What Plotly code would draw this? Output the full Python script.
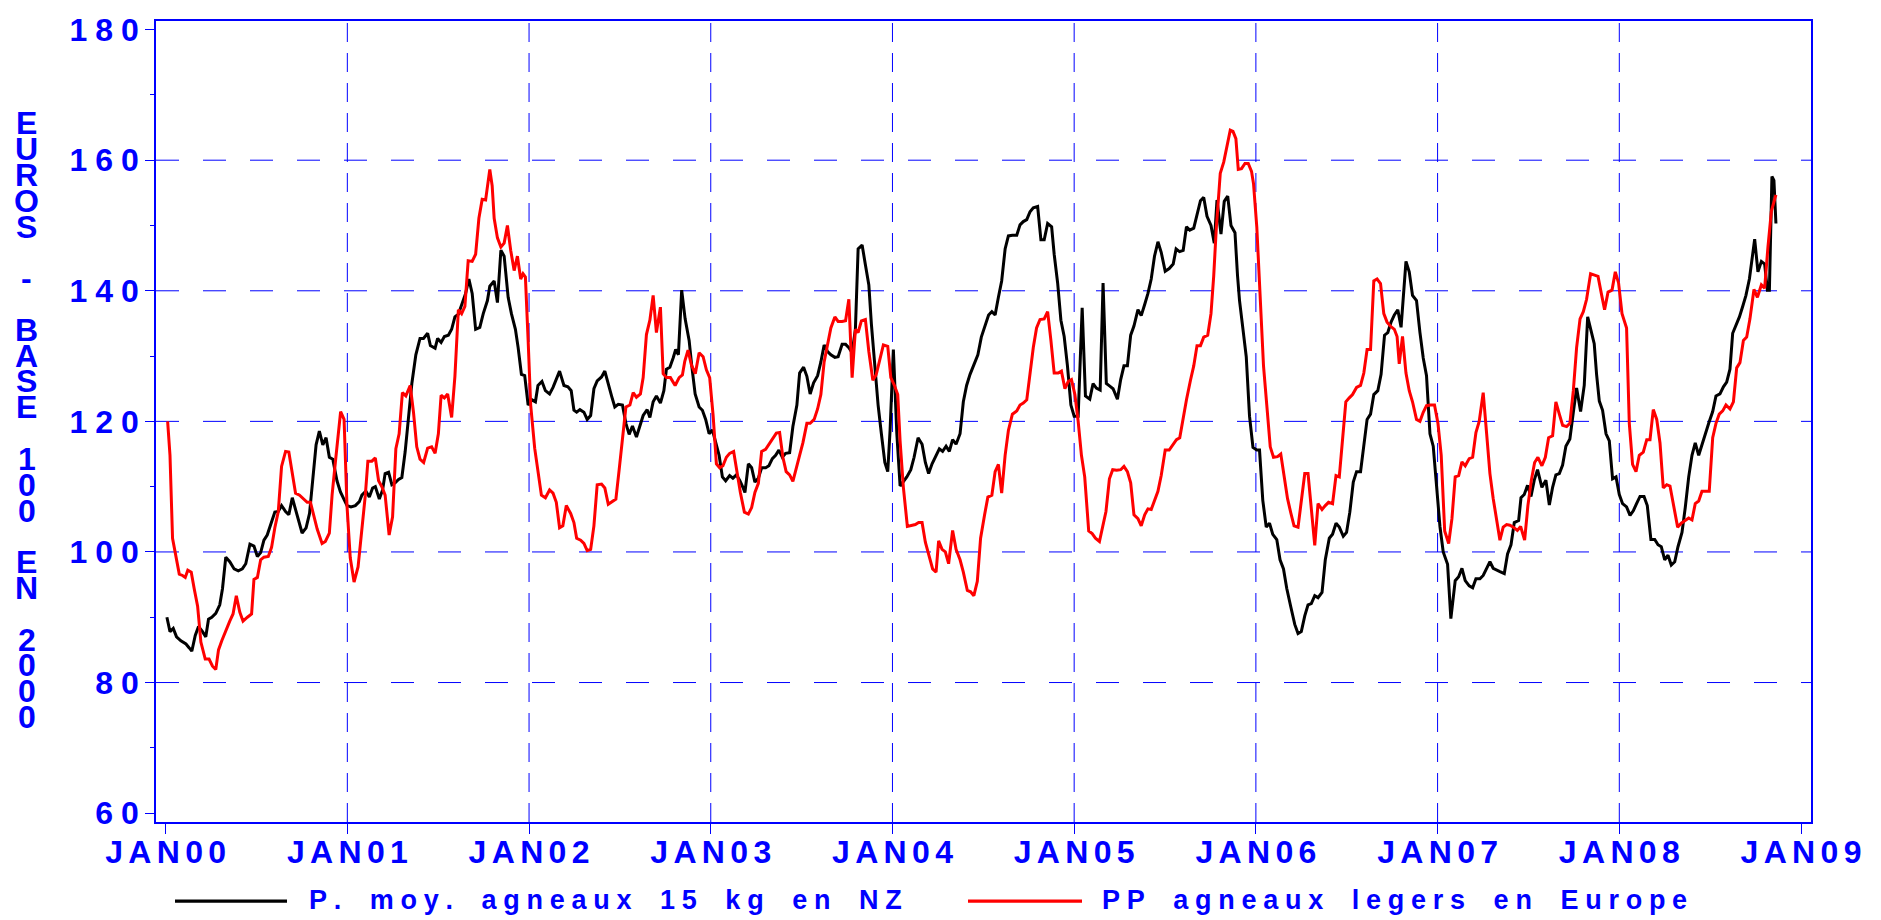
import plotly.graph_objects as go

# ---------------- data ----------------
SERIES_NAMES = ["P. moy. agneaux 15 kg en NZ", "PP agneaux legers en Europe"]

X_TICK_YEARS = [2000, 2001, 2002, 2003, 2004, 2005, 2006, 2007, 2008, 2009]
X_TICK_LABELS = ["JAN00", "JAN01", "JAN02", "JAN03", "JAN04", "JAN05", "JAN06", "JAN07", "JAN08", "JAN09"]
Y_TICK_VALUES = [60, 80, 100, 120, 140, 160, 180]
Y_MINOR_VALUES = [70, 90, 110, 130, 150, 170]
Y_GRID_VALUES = [80, 100, 120, 140, 160]
X_GRID_YEARS = [2001, 2002, 2003, 2004, 2005, 2006, 2007, 2008]
Y_TITLE = "EUROS - BASE 100 EN 2000"

# NZ series (black): decimal year offsets from 2000 and index values
NZ_T = [
    0.007, 0.024, 0.042, 0.060, 0.084, 0.112, 0.130, 0.144, 0.163, 0.181, 0.203, 0.221, 0.236, 0.254,
    0.276, 0.298, 0.313, 0.331, 0.353, 0.377, 0.400, 0.422, 0.441, 0.464, 0.486, 0.505, 0.523, 0.541,
    0.559, 0.578, 0.601, 0.620, 0.638, 0.660, 0.678, 0.697, 0.715, 0.733, 0.751, 0.773, 0.792, 0.806,
    0.828, 0.846, 0.865, 0.883, 0.901, 0.920, 0.943, 0.962, 0.980, 0.998, 1.020, 1.044, 1.066, 1.080,
    1.102, 1.121, 1.139, 1.154, 1.176, 1.194, 1.208, 1.227, 1.245, 1.263, 1.282, 1.300, 1.318, 1.336,
    1.355, 1.377, 1.400, 1.419, 1.442, 1.457, 1.483, 1.497, 1.516, 1.534, 1.556, 1.574, 1.592, 1.611,
    1.629, 1.651, 1.669, 1.687, 1.706, 1.729, 1.748, 1.771, 1.784, 1.808, 1.826, 1.845, 1.863, 1.885,
    1.903, 1.925, 1.940, 1.958, 1.976, 1.995, 2.016, 2.035, 2.049, 2.071, 2.090, 2.113, 2.132, 2.150,
    2.168, 2.192, 2.214, 2.232, 2.247,
    2.262, 2.280, 2.302, 2.320, 2.339, 2.357, 2.375, 2.399, 2.417, 2.436, 2.454, 2.472, 2.491, 2.514,
    2.533, 2.551, 2.569, 2.591, 2.610, 2.628, 2.650, 2.665, 2.683, 2.701, 2.723, 2.742, 2.756, 2.775,
    2.793, 2.807, 2.822, 2.840, 2.859, 2.881, 2.895, 2.914, 2.936, 2.954, 2.972, 2.991, 3.009, 3.027,
    3.046, 3.064, 3.082, 3.104, 3.122, 3.141, 3.159, 3.177, 3.188, 3.207, 3.225, 3.243, 3.262, 3.280,
    3.302, 3.320, 3.339, 3.357, 3.375, 3.394, 3.412, 3.434, 3.452, 3.474, 3.489, 3.511, 3.529, 3.547,
    3.566, 3.588, 3.606, 3.624, 3.643, 3.661, 3.683, 3.701, 3.723, 3.742, 3.760, 3.778, 3.796, 3.811,
    3.833, 3.851, 3.870, 3.884, 3.903, 3.921, 3.939, 3.958, 3.974, 3.987, 4.005, 4.024, 4.042, 4.060,
    4.079, 4.101, 4.119, 4.141, 4.163, 4.181, 4.199, 4.218, 4.240, 4.258, 4.276, 4.295, 4.313, 4.331,
    4.350, 4.372, 4.390, 4.408, 4.427, 4.448, 4.470, 4.489, 4.507, 4.529,
    4.547, 4.565, 4.583, 4.601, 4.620, 4.638, 4.660, 4.684, 4.702, 4.720, 4.739, 4.757, 4.775, 4.799,
    4.817, 4.835, 4.854, 4.876, 4.890, 4.909, 4.927, 4.945, 4.963, 4.982, 5.000, 5.022, 5.044, 5.062,
    5.086, 5.104, 5.122, 5.143, 5.159, 5.177, 5.196, 5.214, 5.238, 5.256, 5.274, 5.293, 5.311, 5.329,
    5.351, 5.369, 5.388, 5.406, 5.424, 5.442, 5.461, 5.479, 5.501, 5.523, 5.545, 5.561, 5.580, 5.600,
    5.618, 5.636, 5.658, 5.676, 5.695, 5.713, 5.731, 5.753, 5.771, 5.786, 5.808, 5.826, 5.845, 5.863,
    5.885, 5.899, 5.910, 5.929, 5.947, 5.965, 5.984, 6.005, 6.020, 6.038, 6.057, 6.075, 6.093, 6.115,
    6.133, 6.152, 6.170, 6.192, 6.214, 6.232, 6.250, 6.269, 6.287, 6.305, 6.324, 6.342, 6.364, 6.382,
    6.404, 6.422, 6.441, 6.459, 6.481, 6.499, 6.517, 6.536, 6.554, 6.576, 6.594, 6.612, 6.631, 6.649,
    6.671, 6.689, 6.708, 6.726, 6.744, 6.762, 6.781, 6.799,
    6.826, 6.844, 6.862, 6.884, 6.903, 6.921, 6.939, 6.958, 6.976, 6.995, 7.013, 7.031, 7.055, 7.073,
    7.097, 7.116, 7.134, 7.152, 7.174, 7.193, 7.211, 7.233, 7.251, 7.270, 7.288, 7.306, 7.325, 7.343,
    7.367, 7.385, 7.404, 7.422, 7.446, 7.459, 7.477, 7.495, 7.514, 7.532, 7.550, 7.574, 7.596, 7.615,
    7.633, 7.651, 7.670, 7.688, 7.706, 7.728, 7.747, 7.765, 7.787, 7.807, 7.826, 7.844, 7.862, 7.875,
    7.890, 7.908, 7.927, 7.945, 7.963, 7.982, 8.000, 8.018, 8.040, 8.059, 8.077, 8.095, 8.114, 8.136,
    8.154, 8.174, 8.195, 8.213, 8.231, 8.250, 8.268, 8.286, 8.305, 8.323, 8.345, 8.363, 8.382, 8.400,
    8.418, 8.437, 8.455, 8.473, 8.492, 8.514, 8.532, 8.554, 8.573, 8.591, 8.609, 8.624, 8.642, 8.661,
    8.679, 8.697, 8.716, 8.730, 8.745, 8.763, 8.782, 8.800, 8.815, 8.826, 8.840, 8.851, 8.862,
]
NZ_V = [
    90.0, 87.8, 88.3, 87.0, 86.4, 85.9, 85.3, 84.8, 87.2, 88.6, 87.8, 87.0, 89.7, 90.0,
    90.6, 91.9, 94.4, 99.2, 98.5, 97.4, 97.1, 97.4, 98.2, 101.2, 100.9, 99.3, 99.9, 101.8,
    102.6, 104.3, 106.1, 106.2, 107.1, 106.2, 105.7, 108.3, 106.5, 105.1, 102.9, 103.7, 105.9, 110.0,
    116.4, 118.5, 116.4, 117.5, 114.5, 114.2, 110.9, 109.2, 108.1, 107.1, 106.9, 107.1, 107.7, 108.7,
    109.3, 108.4, 109.8, 110.0, 108.1, 109.5, 112.0, 112.2, 110.3, 110.6, 111.1, 111.4, 115.3, 120.8,
    125.8, 130.2, 132.7, 132.7, 133.5, 131.6, 131.2, 132.7, 132.1, 133.0, 133.2, 134.1, 136.0, 136.4,
    137.9, 139.6, 141.8, 139.6, 134.1, 134.4, 136.5, 138.5, 140.7, 141.5, 138.2, 146.2, 145.3, 139.0,
    136.5, 134.1, 131.3, 127.2, 127.0, 122.5, 123.3, 123.0, 125.5, 126.1, 124.7, 124.2, 125.2, 126.6,
    127.7, 125.5, 125.3, 124.7, 121.7,
    121.4, 121.8, 121.4, 120.3, 120.9, 125.0, 126.2, 126.8, 127.7, 125.5, 123.9, 122.2, 122.6, 122.5,
    119.7, 118.0, 119.3, 117.6, 119.2, 120.9, 121.8, 120.6, 123.0, 123.9, 122.8, 124.7, 128.0, 128.3,
    129.7, 131.0, 130.2, 140.1, 135.7, 132.4, 128.6, 124.2, 122.2, 121.7, 120.3, 118.1, 118.7, 117.0,
    114.8, 111.5, 110.9, 111.7, 111.3, 111.8, 111.0, 109.9, 109.1, 113.5, 112.9, 110.7, 111.3, 112.9,
    112.9, 113.2, 114.3, 114.8, 115.6, 114.5, 115.1, 115.2, 119.2, 122.5, 127.4, 128.3, 126.9, 124.2,
    125.9, 127.0, 129.1, 131.7, 130.7, 130.2, 129.8, 129.9, 131.8, 131.8, 131.3, 130.5, 134.1, 146.4,
    147.0, 144.0, 140.9, 134.9, 128.0, 122.5, 118.1, 113.7, 112.3, 118.7, 131.0, 118.1, 110.1, 110.7,
    111.5, 112.6, 114.5, 117.5, 116.5, 113.7, 112.0, 113.5, 114.8, 115.8, 115.4, 116.2, 115.4, 117.2,
    116.5, 118.1, 123.0, 125.5, 127.2, 128.8, 130.2, 132.9, 134.3, 136.3,
    136.8, 136.3, 139.0, 141.5, 146.4, 148.4, 148.5, 148.5, 150.1, 150.6, 150.9, 152.1, 152.7, 152.9,
    147.8, 147.8, 150.3, 149.8, 145.6, 141.2, 135.5, 133.0, 128.5, 122.5, 120.8, 120.8, 137.4, 123.9,
    123.4, 125.8, 125.1, 124.8, 141.2, 125.8, 125.4, 125.0, 123.4, 126.4, 128.5, 128.5, 133.2, 134.6,
    137.1, 136.2, 137.9, 139.6, 141.8, 145.3, 147.5, 145.9, 143.0, 143.4, 144.1, 146.4, 146.0, 146.2,
    149.8, 149.3, 149.6, 151.9, 153.8, 154.3, 151.4, 150.0, 147.3, 153.9, 148.7, 153.7, 154.5, 150.0,
    148.9, 142.3, 138.5, 134.1, 129.9, 120.8, 116.0, 115.6, 115.6, 107.9, 103.8, 104.4, 102.7, 101.9,
    98.8, 97.4, 94.4, 91.6, 88.9, 87.5, 87.8, 90.2, 91.9, 92.1, 93.3, 93.0, 93.8, 98.8,
    102.1, 102.7, 104.4, 103.8, 102.4, 103.0, 106.1, 110.7, 112.3, 112.3, 116.4, 120.3, 121.1, 124.1,
    124.7, 127.2, 133.2, 133.6, 135.2, 136.3, 137.1, 134.4,
    144.5, 142.9, 139.3, 138.5, 133.6, 129.7, 127.0, 118.1, 116.2, 110.5, 103.9, 100.0, 98.1, 89.8,
    95.6, 96.2, 97.5, 95.6, 94.8, 94.5, 95.9, 95.9, 96.4, 97.5, 98.5, 97.5, 97.2, 97.0,
    96.7, 99.7, 101.1, 104.5, 104.8, 108.3, 108.8, 110.2, 108.5, 111.0, 112.6, 109.9, 111.0, 107.2,
    109.9, 111.8, 112.0, 113.3, 116.2, 117.3, 121.4, 125.1, 121.5, 125.5, 136.0, 134.1, 131.9, 127.2,
    123.1, 121.7, 118.1, 117.0, 111.2, 111.5, 108.8, 107.4, 106.9, 105.6, 106.3, 107.4, 108.5, 108.5,
    107.1, 101.9, 101.9, 101.1, 100.8, 98.8, 99.5, 98.0, 98.5, 100.8, 103.0, 106.8, 111.5, 114.8,
    116.7, 114.8, 116.5, 118.1, 119.7, 121.5, 123.9, 124.2, 125.3, 126.0, 128.0, 133.5, 134.6, 136.0,
    137.6, 139.3, 141.8, 144.5, 147.9, 142.9, 144.5, 144.1, 140.1, 140.1, 157.5, 156.9, 150.3,
]

# Europe series (red): decimal year offsets from 2000 and index values
EU_T = [
    0.011, 0.024, 0.038, 0.057, 0.075, 0.093, 0.108, 0.122, 0.141, 0.157, 0.176, 0.194, 0.218, 0.239,
    0.258, 0.276, 0.291, 0.309, 0.331, 0.353, 0.371, 0.389, 0.408, 0.426, 0.450, 0.473, 0.486, 0.505,
    0.523, 0.541, 0.565, 0.583, 0.601, 0.620, 0.638, 0.660, 0.678, 0.697, 0.715, 0.737, 0.761, 0.779,
    0.797, 0.815, 0.834, 0.861, 0.879, 0.901, 0.916, 0.934, 0.949, 0.963, 0.982, 0.998, 1.016, 1.037,
    1.059, 1.077, 1.099, 1.113, 1.135, 1.154, 1.172, 1.190, 1.208, 1.230, 1.249, 1.267, 1.285, 1.303,
    1.322, 1.346, 1.364, 1.382, 1.400, 1.420, 1.442, 1.464, 1.483, 1.501, 1.516, 1.534, 1.552, 1.574,
    1.592, 1.611, 1.629, 1.647, 1.665, 1.687, 1.706, 1.724, 1.742, 1.761, 1.784, 1.797, 1.808, 1.826,
    1.845, 1.863, 1.881, 1.899, 1.918, 1.936, 1.954, 1.967, 1.980, 1.995, 2.009, 2.031, 2.049, 2.068,
    2.090, 2.113, 2.132, 2.150, 2.168, 2.186, 2.205, 2.229, 2.247,
    2.262, 2.284, 2.302, 2.320, 2.339, 2.357, 2.375, 2.399, 2.417, 2.436, 2.454, 2.478, 2.496, 2.514,
    2.533, 2.555, 2.573, 2.591, 2.613, 2.628, 2.646, 2.665, 2.683, 2.701, 2.723, 2.738, 2.756, 2.778,
    2.804, 2.826, 2.844, 2.857, 2.875, 2.894, 2.915, 2.936, 2.958, 2.976, 2.994, 3.013, 3.031, 3.049,
    3.067, 3.086, 3.104, 3.126, 3.144, 3.163, 3.185, 3.207, 3.225, 3.243, 3.262, 3.280, 3.302, 3.320,
    3.342, 3.361, 3.379, 3.397, 3.415, 3.434, 3.452, 3.470, 3.489, 3.507, 3.529, 3.547, 3.569, 3.588,
    3.606, 3.624, 3.643, 3.661, 3.683, 3.701, 3.723, 3.742, 3.760, 3.778, 3.796, 3.811, 3.829, 3.851,
    3.870, 3.892, 3.910, 3.932, 3.950, 3.974, 3.991, 4.011, 4.029, 4.042, 4.060, 4.082, 4.104, 4.126,
    4.144, 4.163, 4.181, 4.203, 4.221, 4.240, 4.254, 4.273, 4.291, 4.309, 4.331, 4.350, 4.372, 4.390,
    4.412, 4.430, 4.448, 4.467, 4.485, 4.507, 4.525,
    4.547, 4.565, 4.583, 4.601, 4.620, 4.638, 4.660, 4.684, 4.702, 4.720, 4.739, 4.757, 4.775, 4.793,
    4.812, 4.835, 4.854, 4.872, 4.890, 4.912, 4.930, 4.949, 4.967, 4.985, 5.004, 5.022, 5.040, 5.058,
    5.080, 5.099, 5.117, 5.139, 5.157, 5.175, 5.194, 5.212, 5.234, 5.256, 5.274, 5.293, 5.311, 5.329,
    5.351, 5.369, 5.388, 5.406, 5.424, 5.442, 5.461, 5.479, 5.501, 5.523, 5.541, 5.563, 5.581, 5.600,
    5.618, 5.640, 5.658, 5.676, 5.695, 5.713, 5.735, 5.753, 5.768, 5.782, 5.804, 5.823, 5.841, 5.859,
    5.874, 5.890, 5.903, 5.921, 5.940, 5.958, 5.976, 5.987, 6.005, 6.024, 6.042, 6.060, 6.079, 6.097,
    6.119, 6.137, 6.155, 6.174, 6.192, 6.210, 6.232, 6.250, 6.269, 6.287, 6.305, 6.324, 6.342, 6.364,
    6.382, 6.400, 6.422, 6.441, 6.459, 6.477, 6.495, 6.514, 6.532, 6.554, 6.576, 6.594, 6.612, 6.631,
    6.649, 6.667, 6.686, 6.704, 6.722, 6.740, 6.762, 6.777,
    6.789, 6.807, 6.826, 6.844, 6.862, 6.884, 6.903, 6.921, 6.939, 6.961, 6.983, 7.002, 7.020, 7.039,
    7.061, 7.079, 7.097, 7.116, 7.134, 7.152, 7.174, 7.193, 7.211, 7.229, 7.251, 7.270, 7.288, 7.306,
    7.325, 7.343, 7.361, 7.380, 7.398, 7.417, 7.439, 7.457, 7.479, 7.497, 7.516, 7.534, 7.552, 7.574,
    7.593, 7.611, 7.633, 7.651, 7.670, 7.688, 7.710, 7.728, 7.747, 7.765, 7.784, 7.802, 7.820, 7.842,
    7.864, 7.883, 7.901, 7.919, 7.938, 7.960, 7.978, 7.996, 8.015, 8.040, 8.055, 8.073, 8.092, 8.110,
    8.132, 8.151, 8.169, 8.187, 8.206, 8.224, 8.242, 8.261, 8.279, 8.297, 8.321, 8.341, 8.363, 8.382,
    8.400, 8.418, 8.437, 8.455, 8.473, 8.495, 8.514, 8.532, 8.550, 8.569, 8.587, 8.609, 8.628, 8.646,
    8.664, 8.683, 8.701, 8.719, 8.741, 8.760, 8.782, 8.800, 8.818, 8.837, 8.862,
]
EU_V = [
    120.0, 114.8, 102.1, 99.1, 96.6, 96.4, 96.1, 97.2, 96.9, 94.4, 91.7, 86.2, 83.6, 83.6,
    82.5, 82.0, 85.0, 86.4, 88.0, 89.4, 90.5, 93.3, 90.8, 89.4, 90.0, 90.5, 95.8, 96.1,
    98.8, 99.2, 99.3, 100.7, 103.7, 106.2, 113.1, 115.4, 115.3, 112.0, 109.0, 108.7, 108.1, 107.6,
    107.6, 105.7, 103.5, 101.3, 101.6, 102.9, 108.7, 113.7, 118.1, 121.5, 120.3, 107.1, 99.1, 95.4,
    97.7, 102.6, 108.7, 113.9, 113.9, 114.4, 110.9, 110.0, 108.7, 102.6, 105.4, 115.8, 118.1, 124.4,
    123.9, 125.5, 121.4, 116.1, 114.2, 113.7, 115.9, 116.1, 115.1, 118.1, 124.0, 123.6, 124.2, 120.6,
    126.9, 137.1, 136.5, 137.6, 144.6, 144.5, 145.6, 151.1, 154.0, 153.9, 158.6, 156.1, 151.1, 148.1,
    146.7, 147.3, 150.0, 146.2, 143.1, 145.3, 141.8, 142.6, 142.1, 132.4, 122.5, 115.9, 112.0, 108.7,
    108.3, 109.5, 109.0, 107.6, 103.7, 104.0, 107.1, 105.9, 104.5,
    102.1, 101.8, 101.3, 100.2, 100.4, 104.0, 110.3, 110.4, 109.8, 107.3, 107.6, 108.1, 112.6, 117.5,
    122.2, 122.5, 124.4, 123.7, 124.2, 126.7, 133.3, 135.5, 139.3, 133.6, 137.5, 127.3, 126.7, 126.7,
    125.5, 126.7, 127.1, 129.2, 130.9, 128.6, 127.3, 130.5, 129.9, 127.9, 126.7, 120.9, 113.5, 112.9,
    113.2, 114.5, 115.1, 115.4, 112.0, 109.1, 106.1, 105.8, 106.8, 109.1, 110.5, 115.4, 115.7, 116.5,
    117.4, 118.2, 118.3, 114.5, 112.3, 111.8, 110.8, 112.9, 114.8, 116.7, 119.7, 119.7, 120.3, 121.9,
    124.1, 129.1, 131.8, 134.3, 136.0, 135.3, 135.3, 135.4, 138.7, 126.7, 134.1, 133.6, 135.4, 135.6,
    130.7, 126.3, 127.1, 129.6, 131.7, 131.5, 126.7, 125.5, 124.1, 117.0, 109.9, 103.9, 104.0, 104.2,
    104.5, 104.5, 101.5, 99.1, 97.4, 96.9, 101.7, 100.4, 100.0, 98.2, 103.3, 100.4, 98.8, 96.9,
    94.1, 93.9, 93.3, 95.5, 102.1, 105.7, 108.4,
    108.7, 112.3, 113.4, 109.0, 114.8, 118.6, 121.1, 121.6, 122.5, 122.8, 123.3, 127.7, 131.3, 134.3,
    135.6, 135.7, 136.8, 132.4, 127.4, 127.4, 127.7, 125.0, 126.1, 126.4, 124.1, 120.0, 114.8, 111.5,
    103.2, 102.8, 102.1, 101.6, 103.8, 106.2, 111.2, 112.6, 112.5, 112.6, 113.1, 112.3, 110.6, 105.7,
    105.1, 104.0, 105.7, 106.6, 106.5, 107.9, 109.3, 111.7, 115.6, 115.6, 116.4, 117.2, 117.5, 120.6,
    123.3, 126.3, 128.5, 131.6, 131.6, 132.9, 133.2, 136.5, 142.3, 149.5, 158.0, 159.7, 162.4, 164.6,
    164.4, 163.3, 158.6, 158.7, 159.5, 159.5, 158.3, 156.4, 149.8, 139.0, 128.5, 122.5, 116.1, 114.5,
    114.6, 115.0, 112.0, 108.2, 106.0, 104.0, 103.8, 107.4, 112.0, 112.0, 107.1, 101.0, 107.4, 106.5,
    107.1, 107.6, 107.4, 111.7, 111.5, 117.0, 123.0, 123.6, 124.1, 125.2, 125.5, 127.4, 131.0, 131.0,
    141.5, 141.8, 141.1, 136.5, 135.2, 134.6, 134.1, 133.0,
    128.8, 133.0, 127.4, 124.7, 123.0, 120.3, 120.0, 121.4, 122.4, 122.5, 122.5, 119.7, 114.8, 103.2,
    101.3, 105.1, 111.5, 111.7, 113.8, 113.2, 114.3, 114.5, 118.3, 120.0, 124.4, 118.1, 112.0, 108.2,
    104.9, 101.8, 103.8, 104.2, 104.1, 103.8, 103.3, 103.9, 101.8, 107.1, 111.0, 113.7, 114.5, 113.2,
    114.5, 117.5, 117.8, 123.0, 121.1, 119.4, 119.2, 119.7, 124.7, 131.3, 135.7, 136.8, 138.7, 142.6,
    142.4, 142.2, 139.6, 137.1, 139.8, 140.1, 142.9, 141.2, 136.5, 134.3, 119.7, 113.4, 112.3, 114.8,
    115.3, 117.2, 117.2, 121.8, 120.3, 116.7, 109.8, 110.3, 110.1, 107.6, 103.8, 104.4, 104.8, 105.2,
    104.9, 107.4, 107.8, 109.3, 109.3, 109.3, 117.5, 119.7, 121.1, 121.6, 122.5, 121.9, 123.0, 128.2,
    129.0, 132.4, 132.9, 135.7, 140.2, 139.0, 140.9, 140.4, 146.7, 152.2, 154.7,
]

BASE_YEAR = 2000

# ---------------- styling ----------------
BLUE = "#0000ff"
FONT = "Liberation Sans, Arial, Helvetica, sans-serif"
W, H = 1881, 920
ML, MR, MT, MB = 156, 70, 12, 98
PW, PH = W - ML - MR, H - MT - MB


def spaced(s, letter="\u2005", word="\u2005\u00a0\u00a0\u2005"):
    return word.join(letter.join(w) for w in s.split(" "))


def px_to_paper_x(px):
    return (px - ML) / PW


def px_to_paper_y(py):
    return (H - MB - py) / PH


fig = go.Figure()
fig.add_trace(go.Scatter(
    x=[BASE_YEAR + t for t in NZ_T], y=NZ_V, mode="lines", name=SERIES_NAMES[0],
    line=dict(color="#000000", width=3), showlegend=False,
))
fig.add_trace(go.Scatter(
    x=[BASE_YEAR + t for t in EU_T], y=EU_V, mode="lines", name=SERIES_NAMES[1],
    line=dict(color="#ff0000", width=3), showlegend=False,
))

shapes = []
for v in Y_GRID_VALUES:
    shapes.append(dict(type="line", xref="paper", yref="y", x0=0, x1=1, y0=v, y1=v,
                       line=dict(color=BLUE, width=1, dash="23px,24px"), layer="below"))
for yr in X_GRID_YEARS:
    shapes.append(dict(type="line", xref="x", yref="paper", x0=yr, x1=yr, y0=0, y1=1,
                       line=dict(color=BLUE, width=1, dash="19px,11px"), layer="below"))

# custom legend (long line samples like the reference)
LEG = [(175, 287, 307, "#000000"), (968, 1082, 1100, "#ff0000")]
annotations = []
for (x0, x1, xt, col), name in zip(LEG, SERIES_NAMES):
    shapes.append(dict(type="line", xref="paper", yref="paper",
                       x0=px_to_paper_x(x0), x1=px_to_paper_x(x1),
                       y0=px_to_paper_y(902), y1=px_to_paper_y(902),
                       line=dict(color=col, width=3.2)))
    annotations.append(dict(text=spaced(name), xref="paper", yref="paper",
                            x=px_to_paper_x(xt), y=px_to_paper_y(901),
                            xanchor="left", yanchor="middle", showarrow=False,
                            font=dict(family=FONT, size=27, color=BLUE, weight="bold")))

# stacked vertical y-axis title
for i, ch in enumerate(Y_TITLE):
    if ch == " ":
        continue
    annotations.append(dict(text=ch, xref="paper", yref="paper",
                            x=px_to_paper_x(26.7), y=px_to_paper_y(102.5 + 26.1 * (i + 0.5)),
                            xanchor="center", yanchor="middle", showarrow=False,
                            font=dict(family=FONT, size=32, color=BLUE, weight="bold")))

tickfont = dict(family=FONT, size=32, color=BLUE, weight="bold")

fig.update_layout(
    width=W, height=H,
    margin=dict(l=ML, r=MR, t=MT, b=MB),
    paper_bgcolor="white", plot_bgcolor="white",
    shapes=shapes, annotations=annotations,
    xaxis=dict(
        range=[1999.947, 2009.055], tickmode="array", tickvals=X_TICK_YEARS,
        ticktext=["\u2006".join(s) for s in X_TICK_LABELS],
        showgrid=False, zeroline=False,
        showline=True, linecolor=BLUE, linewidth=1.5, mirror=True,
        ticks="outside", ticklen=10, tickwidth=1.2, tickcolor=BLUE,
        tickfont=tickfont, ticklabelstandoff=-9,
    ),
    yaxis=dict(
        range=[58.64, 181.32], tickmode="array", tickvals=Y_TICK_VALUES,
        ticktext=["\u2005".join(str(v)) for v in Y_TICK_VALUES],
        showgrid=False, zeroline=False,
        showline=True, linecolor=BLUE, linewidth=1.5, mirror=True,
        ticks="outside", ticklen=9, tickwidth=1.2, tickcolor=BLUE,
        tickfont=tickfont,
        minor=dict(tickmode="array", tickvals=Y_MINOR_VALUES, ticks="outside",
                   ticklen=4, tickwidth=1.2, tickcolor=BLUE, showgrid=False),
    ),
)

fig.write_html("out.html", config={"displayModeBar": False},
               post_script="document.body.style.margin='0';document.body.style.overflow='hidden';")
